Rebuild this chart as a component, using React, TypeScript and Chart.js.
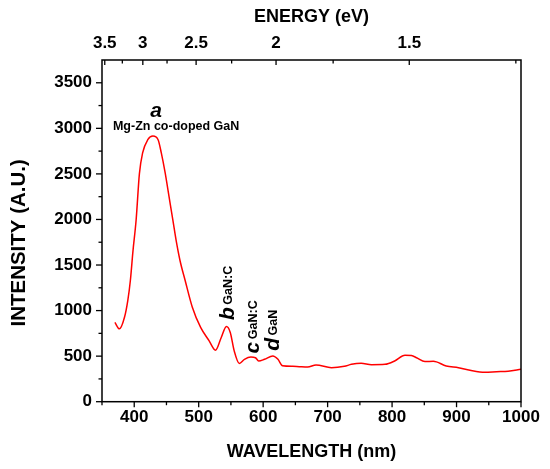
import { useEffect, useRef } from "react"
import { Chart, registerables } from "chart.js"

Chart.register(...registerables)

// photon energy (eV) = HC / wavelength (nm)
const HC = 1240

const wavelength = [
  370, 377, 385, 390, 394, 398, 403, 408, 413, 421, 429, 437, 442, 448, 454, 460, 465, 471, 479, 490,
  503, 516, 526, 535, 543, 549, 555, 563, 571, 581, 588, 593, 602, 615, 623, 630, 646, 656, 669, 682,
  706, 726, 737, 752, 768, 789, 804, 820, 830, 838, 851, 864, 884, 903, 921, 944, 962, 980, 1000,
]
const intensity = [
  870, 800, 930, 1110, 1330, 1650, 2000, 2500, 2730, 2875, 2915, 2875, 2730, 2510, 2250, 1990, 1770, 1550, 1330, 1040,
  815, 670, 565, 705, 825, 760, 560, 420, 465, 490, 483, 447, 465, 502, 465, 394, 388, 384, 380, 403,
  373, 388, 410, 421, 406, 410, 447, 510, 506, 483, 440, 444, 392, 373, 344, 322, 329, 335, 355,
]

const wavelengthTicks = [400, 500, 600, 700, 800, 900, 1000]
const wavelengthMinor = [350, 450, 550, 650, 750, 850, 950]
const intensityTicks = [0, 500, 1000, 1500, 2000, 2500, 3000, 3500]
const intensityMinor = [250, 750, 1250, 1750, 2250, 2750, 3250]
const energyTicks = [3.5, 3, 2.5, 2, 1.5]
const energyMinor = [3.25, 2.75, 2.25, 1.75, 1.25]

const peakLetters = ["a", "b", "c", "d"]
const peakNames = ["Mg-Zn co-doped GaN", "GaN:C", "GaN:C", "GaN"]

const FONT = "'Liberation Sans', Arial, sans-serif"

const framePlugin = {
  id: "frame",
  beforeDraw(chart: any) {
    const { ctx, width, height } = chart
    ctx.save()
    ctx.fillStyle = "#fff"
    ctx.fillRect(0, 0, width, height)
    ctx.restore()
  },
  afterDraw(chart: any) {
    const { ctx, chartArea: a, scales } = chart
    const x = scales.x
    const y = scales.y
    ctx.save()
    ctx.strokeStyle = "#000"
    ctx.lineWidth = 1.5
    ctx.strokeRect(a.left, a.top, a.right - a.left, a.bottom - a.top)

    ctx.lineWidth = 1.3
    const tick = (x1: number, y1: number, x2: number, y2: number) => {
      ctx.beginPath()
      ctx.moveTo(x1, y1)
      ctx.lineTo(x2, y2)
      ctx.stroke()
    }
    wavelengthTicks.forEach((v) => {
      const p = x.getPixelForValue(v)
      tick(p, a.bottom, p, a.bottom + 5.5)
    })
    wavelengthMinor.forEach((v) => {
      const p = x.getPixelForValue(v)
      tick(p, a.bottom, p, a.bottom + 3.5)
    })
    intensityTicks.forEach((v) => {
      const p = y.getPixelForValue(v)
      tick(a.left - 6, p, a.left, p)
    })
    intensityMinor.forEach((v) => {
      const p = y.getPixelForValue(v)
      tick(a.left - 3.5, p, a.left, p)
    })
    energyTicks.forEach((e) => {
      const p = x.getPixelForValue(HC / e)
      tick(p, a.top, p, a.top + 5)
    })
    energyMinor.forEach((e) => {
      const p = x.getPixelForValue(HC / e)
      tick(p, a.top, p, a.top + 3.5)
    })

    // y title (sits a little below the axis centre in the original)
    ctx.fillStyle = "#000"
    ctx.font = `bold 20.5px ${FONT}`
    ctx.textAlign = "center"
    ctx.textBaseline = "alphabetic"
    ctx.translate(25, (a.top + a.bottom) / 2 + 12)
    ctx.rotate(-Math.PI / 2)
    ctx.fillText("INTENSITY (A.U.)", 0, 0)
    ctx.restore()
  },
}

const labelPlugin = {
  id: "peakLabels",
  afterDatasetsDraw(chart: any) {
    const { ctx, scales } = chart
    const x = scales.x
    const y = scales.y
    const big = `italic bold 21px ${FONT}`
    const small = `bold 12.5px ${FONT}`
    ctx.save()
    ctx.fillStyle = "#000"
    ctx.textBaseline = "alphabetic"

    ctx.textAlign = "center"
    ctx.font = big
    ctx.fillText(peakLetters[0], x.getPixelForValue(434), y.getPixelForValue(3125))
    ctx.font = small
    ctx.fillText(peakNames[0], x.getPixelForValue(465), y.getPixelForValue(2983))

    // rotated letters b, c, d with their material names
    const anchors = [
      [554, 897],
      [593, 530],
      [624, 559],
    ]
    ctx.textAlign = "left"
    anchors.forEach(([nm, v], i) => {
      ctx.save()
      ctx.translate(x.getPixelForValue(nm), y.getPixelForValue(v))
      ctx.rotate(-Math.PI / 2)
      ctx.font = big
      const w = ctx.measureText(peakLetters[i + 1]).width
      ctx.fillText(peakLetters[i + 1], 0, 0)
      ctx.font = small
      ctx.fillText(peakNames[i + 1], w + 2.5, -2)
      ctx.restore()
    })
    ctx.restore()
  },
}

export default function App() {
  const chartRef = useRef<HTMLCanvasElement>(null)
  const chartInstance = useRef<Chart | null>(null)

  useEffect(() => {
    document.body.style.margin = "0"
    if (!chartRef.current) return
    if (chartInstance.current) chartInstance.current.destroy()

    const tickFont = { family: FONT, weight: "bold" as const, size: 17 }
    const titleFont = { family: FONT, weight: "bold" as const, size: 18 }
    const plain = (v: any) => String(v)

    chartInstance.current = new Chart(chartRef.current, {
      type: "line",
      data: {
        datasets: [
          {
            label: "PL",
            data: wavelength.map((w, i) => ({ x: w, y: intensity[i] })),
            borderColor: "#ff0000",
            borderWidth: 1.5,
            pointRadius: 0,
            fill: false,
            cubicInterpolationMode: "monotone",
          },
        ],
      },
      options: {
        responsive: false,
        animation: false,
        layout: { padding: { left: 0, right: 29, top: 0, bottom: 0 } },
        plugins: {
          legend: { display: false },
          tooltip: { enabled: false },
        },
        scales: {
          x: {
            type: "linear",
            position: "bottom",
            min: 350,
            max: 1000,
            afterBuildTicks: (s: any) => {
              s.ticks = wavelengthTicks.map((v) => ({ value: v }))
            },
            afterFit: (s: any) => {
              s.height = 67.3
            },
            grid: { display: false, drawTicks: false },
            border: { display: false },
            ticks: { autoSkip: false, maxRotation: 0, padding: 5, color: "#000", font: tickFont, callback: plain },
            title: {
              display: true,
              text: "WAVELENGTH (nm)",
              color: "#000",
              font: titleFont,
              padding: { top: 0, bottom: 6.5 },
            },
          },
          x2: {
            type: "linear",
            position: "top",
            min: 350,
            max: 1000,
            afterBuildTicks: (s: any) => {
              s.ticks = energyTicks.map((e) => ({ value: HC / e }))
            },
            afterFit: (s: any) => {
              s.height = 60
            },
            grid: { display: false, drawTicks: false },
            border: { display: false },
            ticks: {
              autoSkip: false,
              maxRotation: 0,
              padding: 6.5,
              color: "#000",
              font: tickFont,
              callback: (_v: any, i: number) => String(energyTicks[i]),
            },
            title: {
              display: true,
              text: "ENERGY (eV)",
              color: "#000",
              font: titleFont,
              padding: { top: 5.9, bottom: 0 },
            },
          },
          y: {
            type: "linear",
            position: "left",
            min: 0,
            max: 3750,
            afterBuildTicks: (s: any) => {
              s.ticks = intensityTicks.map((v) => ({ value: v }))
            },
            afterFit: (s: any) => {
              s.width = 102
            },
            grid: { display: false, drawTicks: false },
            border: { display: false },
            ticks: { autoSkip: false, padding: 10, color: "#000", font: tickFont, callback: plain },
          },
        },
      },
      plugins: [framePlugin, labelPlugin],
    })

    return () => {
      if (chartInstance.current) {
        chartInstance.current.destroy()
        chartInstance.current = null
      }
    }
  }, [])

  return (
    <div style={{ width: 550, height: 469 }}>
      <canvas ref={chartRef} width={550} height={469} style={{ width: 550, height: 469 }} />
    </div>
  )
}
